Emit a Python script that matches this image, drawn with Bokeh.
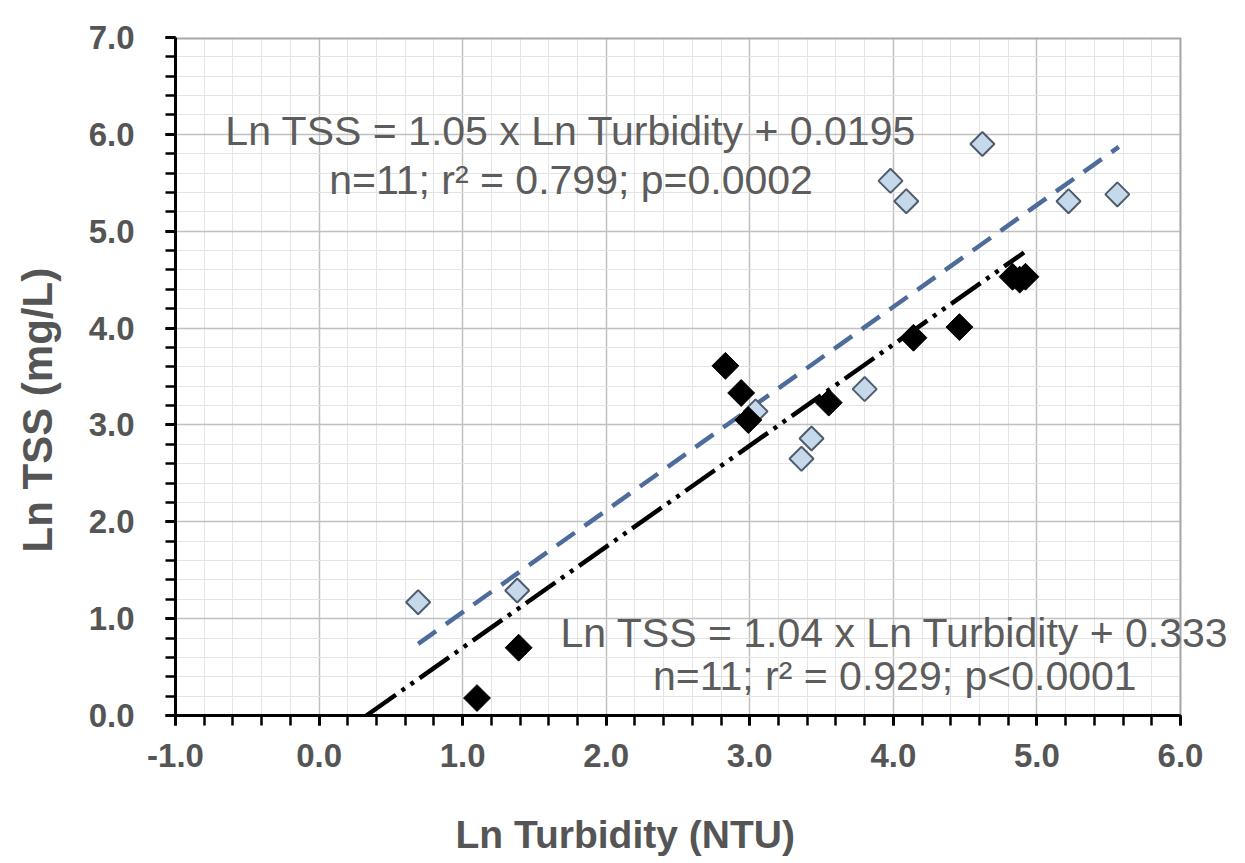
import numpy as np
from bokeh.plotting import figure
from bokeh.models import (Range1d, FixedTicker, NumeralTickFormatter, Label,
                          BoxAnnotation, ColumnDataSource, Title)
from bokeh.embed import file_html
from bokeh.resources import INLINE

# ---- data ----
series_a_x = [0.69, 1.38, 3.04, 3.36, 3.43, 3.80, 3.98, 4.09, 4.62, 5.22, 5.56]
series_a_y = [1.17, 1.29, 3.14, 2.65, 2.86, 3.37, 5.52, 5.31, 5.90, 5.31, 5.38]

series_b_x = [1.10, 1.39, 2.83, 2.94, 2.99, 3.55, 4.14, 4.46, 4.83, 4.88, 4.92]
series_b_y = [0.18, 0.70, 3.61, 3.33, 3.05, 3.23, 3.90, 4.01, 4.53, 4.50, 4.53]

fit_a_x = [0.69, 5.57]
fit_a_y = [0.74, 5.87]
fit_b_x = [0.33, 4.91]
fit_b_y = [0.00, 4.78]

x_major = [-1.0, 0.0, 1.0, 2.0, 3.0, 4.0, 5.0, 6.0]
y_major = [0.0, 1.0, 2.0, 3.0, 4.0, 5.0, 6.0, 7.0]

eq_a = ["Ln TSS = 1.05 x Ln Turbidity + 0.0195", "n=11; r\u00b2 = 0.799; p=0.0002"]
eq_b = ["Ln TSS = 1.04 x Ln Turbidity + 0.333", "n=11; r\u00b2 = 0.929; p<0.0001"]

x_title = "Ln Turbidity (NTU)"
y_title = "Ln TSS (mg/L)"

X_MIN, X_MAX = -1.0, 6.0
Y_MIN, Y_MAX = 0.0, 7.0
X_VIEW_MAX = 6.4526   # room on the right so the lower equation is not clipped

# ---- figure ----
p = figure(width=1245, height=863, x_range=Range1d(X_MIN, X_VIEW_MAX),
           y_range=Range1d(Y_MIN, Y_MAX),
           output_backend="svg", toolbar_location=None,
           min_border_left=175, min_border_right=0,
           min_border_top=37, min_border_bottom=148)
p.background_fill_color = "white"
p.border_fill_color = "white"
p.outline_line_color = None

x_minor = [round(-1 + 0.2 * i, 2) for i in range(36)]
y_minor = [round(0.2 * i, 2) for i in range(36)]
xt = FixedTicker(ticks=x_major, minor_ticks=x_minor)
yt = FixedTicker(ticks=y_major, minor_ticks=y_minor)
p.xaxis.ticker = xt
p.yaxis.ticker = yt
p.xgrid.ticker = xt
p.ygrid.ticker = yt
p.xaxis.bounds = (X_MIN, X_MAX)

for g in (p.xgrid[0], p.ygrid[0]):
    g.grid_line_color = "#c0c0c0"
    g.grid_line_width = 1.5
    g.minor_grid_line_color = "#e4e4e4"
    g.minor_grid_line_width = 1

# white cover for the grid beyond x = 6 (right of the chart frame)
p.add_layout(BoxAnnotation(left=X_MAX, fill_color="white", fill_alpha=1.0,
                           line_color=None, level="underlay"))

for ax in (p.xaxis[0], p.yaxis[0]):
    ax.formatter = NumeralTickFormatter(format="0.0")
    ax.axis_line_color = "black"
    ax.axis_line_width = 3
    ax.major_tick_in = 0
    ax.major_tick_out = 10
    ax.minor_tick_in = 0
    ax.minor_tick_out = 10
    ax.major_tick_line_width = 3
    ax.minor_tick_line_width = 2.5
    ax.major_tick_line_color = "black"
    ax.minor_tick_line_color = "black"
    ax.major_label_text_font = "Liberation Sans"
    ax.major_label_text_font_size = "33px"
    ax.major_label_text_font_style = "bold"
    ax.major_label_text_color = "#555555"
    # blank spacer between tick labels and the title
    ax.axis_label = "\u00a0"
    ax.axis_label_text_font = "Liberation Sans"
    ax.axis_label_standoff = 0

p.xaxis.major_label_standoff = 18
p.yaxis.major_label_standoff = 31
p.xaxis.axis_label_text_font_size = "32px"
p.yaxis.axis_label_text_font_size = "16px"

# axis titles (placed like the original, slightly off-centre)
title_style = dict(text_font="Liberation Sans", text_font_style="bold",
                   text_color="#555555")
p.add_layout(Title(text=x_title, align="left", offset=280, standoff=4,
                   text_font_size="39px", **title_style), "below")
p.add_layout(Title(text=y_title, align="left", offset=163, standoff=10,
                   text_font_size="42px", **title_style), "left")

# frame border (top and right) in grey
p.line([X_MIN, X_MAX], [Y_MAX, Y_MAX], line_color="#a8a8a8", line_width=4)
p.line([X_MAX, X_MAX], [Y_MIN, Y_MAX], line_color="#a8a8a8", line_width=2)

# ---- fit lines ----
p.line(fit_a_x, fit_a_y, line_color="#4d6c9c", line_width=4.5, line_dash="22 12")
p.line(fit_b_x, fit_b_y, line_color="black", line_width=4.5, line_dash="36 7 4 7 4 7")

# ---- points ----
src_a = ColumnDataSource(dict(x=series_a_x, y=series_a_y))
src_b = ColumnDataSource(dict(x=series_b_x, y=series_b_y))
p.scatter("x", "y", source=src_a, marker="square", angle=np.pi / 4, size=17,
          fill_color="#c6d9ea", line_color="#4e5d6e", line_width=2)
p.scatter("x", "y", source=src_b, marker="square", angle=np.pi / 4, size=19,
          fill_color="black", line_color="black", line_width=1)

# ---- equations ----
common = dict(text_align="center", text_baseline="alphabetic",
              text_font="Liberation Sans", text_font_size="41px",
              text_color="#5c5c5c")
p.add_layout(Label(x=1.755, y=6.03, text=eq_a[0], **common))
p.add_layout(Label(x=1.755, y=5.53, text=eq_a[1], **common))
p.add_layout(Label(x=4.01, y=0.85, text=eq_b[0], **common))
p.add_layout(Label(x=4.01, y=0.41, text=eq_b[1], **common))

open("out.html", "w").write(file_html(p, INLINE))
